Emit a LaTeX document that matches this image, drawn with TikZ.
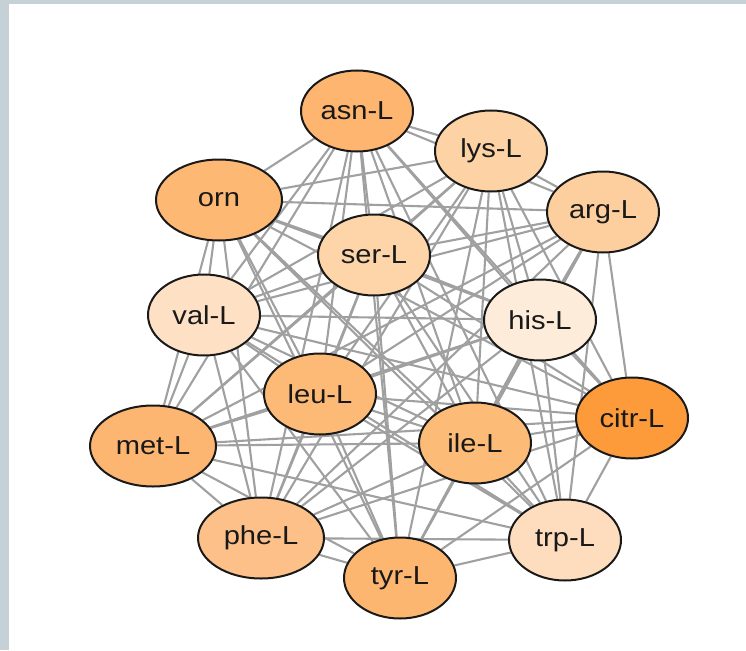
\documentclass[tikz,border=0pt]{standalone}
\usepackage{fontspec}
\usepackage{graphicx}
\setmainfont{Liberation Sans}
\usetikzlibrary{shapes.geometric,backgrounds}
\definecolor{framegray}{HTML}{C5D0D7}
\definecolor{edgegray}{HTML}{A0A0A0}
\definecolor{cAsn}{HTML}{FDB570}
\definecolor{cOrn}{HTML}{FDB873}
\definecolor{cSer}{HTML}{FDD5A8}
\definecolor{cLys}{HTML}{FDD3A5}
\definecolor{cArg}{HTML}{FDCF9F}
\definecolor{cHis}{HTML}{FEECDA}
\definecolor{cVal}{HTML}{FEE0C5}
\definecolor{cLeu}{HTML}{FDBA76}
\definecolor{cMet}{HTML}{FDB672}
\definecolor{cIle}{HTML}{FDBB78}
\definecolor{cCitr}{HTML}{FD9B3A}
\definecolor{cPhe}{HTML}{FDC089}
\definecolor{cTyr}{HTML}{FDB670}
\definecolor{cTrp}{HTML}{FEDDBE}
\newcommand{\wlabel}[1]{\scalebox{1.12}[1]{#1}}
\tikzset{
  metab/.style={ellipse, draw=black!90, line width=2pt, inner sep=0pt,
    minimum width=112pt, minimum height=81pt,
    font=\fontsize{26}{26}\selectfont, text=black!90},
  wide/.style={minimum width=126pt},
  link/.style={draw=edgegray, line width=2.1pt},
}
\begin{document}
\begin{tikzpicture}[x=1pt,y=-1pt]
\useasboundingbox (0,0) rectangle (746,650);
\node[metab, fill=cAsn]        (asn)  at (357,111) {\wlabel{asn-L}};
\node[metab, wide, fill=cOrn]  (orn)  at (219,200) {\wlabel{orn}};
\node[metab, fill=cSer]        (ser)  at (374,255) {\wlabel{ser-L}};
\node[metab, fill=cLys]        (lys)  at (491,151) {\wlabel{lys-L}};
\node[metab, fill=cArg]        (arg)  at (603,212) {\wlabel{arg-L}};
\node[metab, fill=cHis]        (his)  at (540,320) {\wlabel{his-L}};
\node[metab, fill=cVal]        (val)  at (204,315) {\wlabel{val-L}};
\node[metab, fill=cLeu]        (leu)  at (320,394) {\wlabel{leu-L}};
\node[metab, wide, fill=cMet]  (met)  at (153,446) {\wlabel{met-L}};
\node[metab, fill=cIle]        (ile)  at (475,443) {\wlabel{ile-L}};
\node[metab, fill=cCitr]       (citr) at (632,418) {\wlabel{citr-L}};
\node[metab, wide, fill=cPhe]  (phe)  at (261,538) {\wlabel{phe-L}};
\node[metab, fill=cTyr]        (tyr)  at (400,578) {\wlabel{tyr-L}};
\node[metab, fill=cTrp]        (trp)  at (565,540) {\wlabel{trp-L}};
\begin{pgfonlayer}{background}
  \fill[framegray] (0,0) rectangle (746,4.5);
  \fill[framegray] (0,0) rectangle (9,650);
  \foreach \a [count=\i] in {asn,orn,ser,lys,arg,his,val,leu,met,ile,citr,phe,tyr,trp}{
    \foreach \b [count=\j] in {asn,orn,ser,lys,arg,his,val,leu,met,ile,citr,phe,tyr,trp}{
      \ifnum\j>\i
        \draw[link] (\a) -- (\b);
      \fi
    }
  }
\end{pgfonlayer}
\end{tikzpicture}
\end{document}
